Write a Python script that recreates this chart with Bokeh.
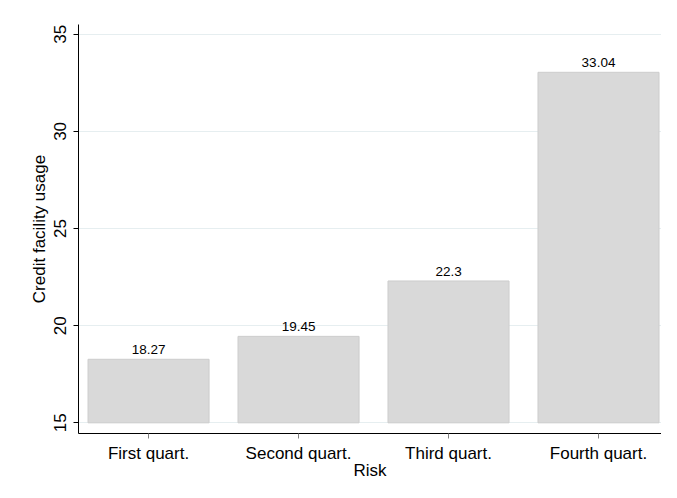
from bokeh.plotting import figure
from bokeh.models import ColumnDataSource, Range1d, FixedTicker, LabelSet
from bokeh.core.properties import value
from bokeh.embed import file_html
from bokeh.resources import INLINE

categories = ["First quart.", "Second quart.", "Third quart.", "Fourth quart."]
usage = [18.27, 19.45, 22.3, 33.04]
labels = ["18.27", "19.45", "22.3", "33.04"]
y_ticks = [15, 20, 25, 30, 35]
base_value = 15

FONT = "Liberation Sans"

positions = list(range(len(categories)))
src = ColumnDataSource(dict(x=positions, val=usage, lab=labels, base=[base_value] * len(usage)))

p = figure(x_range=Range1d(-0.467, 3.42),
           y_range=Range1d(14.45, 35.5),
           width=661, height=482, output_backend="svg", toolbar_location=None,
           min_border_left=78, min_border_right=0, min_border_top=24, min_border_bottom=44)

p.vbar(x="x", top="val", bottom="base", width=0.807, source=src,
       fill_color="#d9d9d9", line_color="#cdcdcd", line_width=1)

p.add_layout(LabelSet(x="x", y="val", text="lab", source=src, text_align="center",
                      text_baseline="bottom", y_offset=5, text_font=value(FONT),
                      text_font_size="13.5px", text_color="#000000"))

p.outline_line_color = None
p.xgrid.grid_line_color = None
p.ygrid.grid_line_color = "#e6eef0"
p.ygrid.grid_line_width = 1

p.xaxis.ticker = FixedTicker(ticks=positions)
p.xaxis.major_label_overrides = {i: c for i, c in zip(positions, categories)}
p.xaxis.minor_tick_line_color = None
p.yaxis.ticker = FixedTicker(ticks=y_ticks)
p.yaxis.minor_tick_line_color = None
p.yaxis.major_label_orientation = "vertical"
p.yaxis.major_tick_in = 0
p.yaxis.major_tick_out = 5
p.yaxis.major_label_standoff = 7
p.yaxis.axis_label = "Credit facility usage"
p.yaxis.axis_label_standoff = 3
p.xaxis.axis_label = "Risk"
p.xaxis.axis_label_standoff = -5
p.xaxis.major_tick_in = 0
p.xaxis.major_tick_out = 5
p.xaxis.major_tick_line_color = "#808080"
p.xaxis.major_label_standoff = 5
for ax in (p.xaxis, p.yaxis):
    ax.axis_line_color = "#000000"
    ax.major_label_text_font = FONT
    ax.major_label_text_font_size = "17px"
    ax.major_label_text_color = "#000000"
    ax.axis_label_text_font = FONT
    ax.axis_label_text_font_size = "17px"
    ax.axis_label_text_font_style = "normal"
    ax.axis_label_text_color = "#000000"
p.yaxis.major_tick_line_color = "#000000"
p.background_fill_color = "#ffffff"
p.border_fill_color = "#ffffff"

open("out.html", "w").write(file_html(p, INLINE))
